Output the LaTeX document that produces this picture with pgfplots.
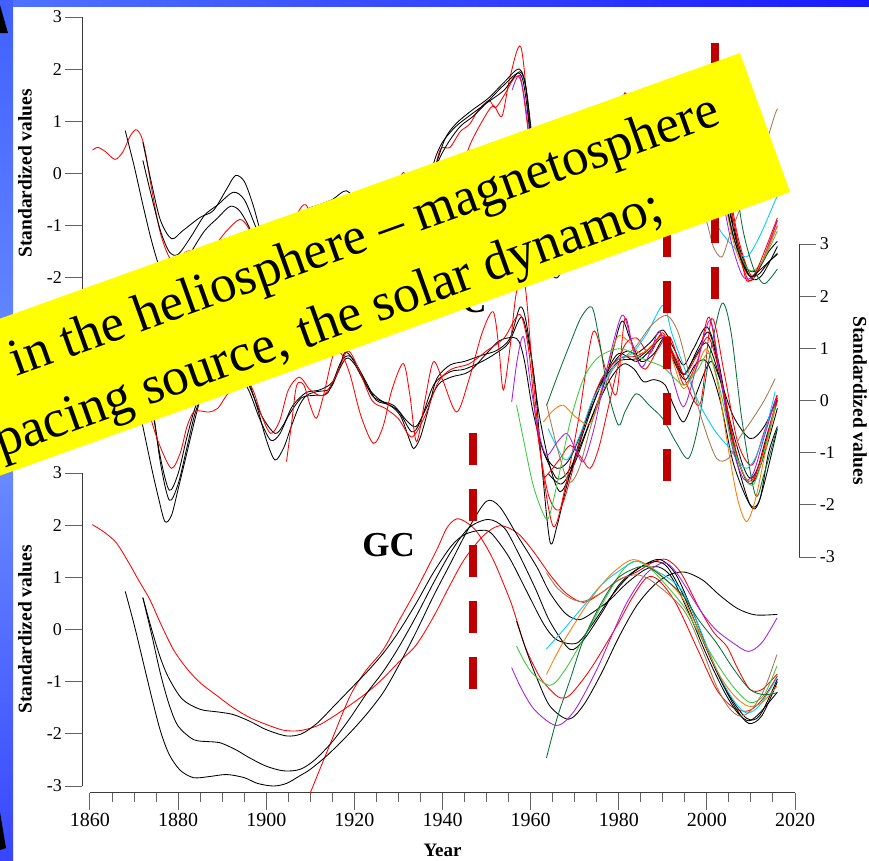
\documentclass[border=0pt]{standalone}
\usepackage{pgfplots}
\pgfplotsset{compat=1.18}
\usepackage{fontspec}
\setmainfont{Liberation Serif}

\definecolor{cRed}{RGB}{255,0,0}
\definecolor{cPurple}{RGB}{160,32,230}
\definecolor{cBrown}{RGB}{165,120,80}
\definecolor{cCyan}{RGB}{0,200,255}
\definecolor{cGreen}{RGB}{60,200,60}
\definecolor{cDkGreen}{RGB}{10,110,60}
\definecolor{cOrange}{RGB}{255,120,0}
\definecolor{dashRed}{RGB}{192,0,0}
\definecolor{bannerYellow}{RGB}{255,255,0}
\definecolor{frameA}{RGB}{80,115,255}
\definecolor{frameB}{RGB}{25,25,255}
\definecolor{stripTop}{RGB}{64,96,255}
\definecolor{stripMid}{RGB}{110,145,255}
\definecolor{stripBot}{RGB}{55,70,255}
\definecolor{axisGray}{RGB}{60,60,60}
\definecolor{tickGray}{RGB}{100,100,100}

\pgfplotsset{
  curve/.style={line width=0.85pt, smooth, tension=0.5},
  sK/.style={curve, black},
  sR/.style={curve, cRed},
  sP/.style={curve, cPurple},
  sB/.style={curve, cBrown},
  sC/.style={curve, cCyan},
  sG/.style={curve, cGreen},
  sD/.style={curve, cDkGreen},
  sO/.style={curve, cOrange},
  event/.style={dashRed, line width=8pt, dash pattern=on 32pt off 24pt},
  panel/.style={
    scale only axis, width=705pt, height=313pt,
    xmin=1860, xmax=2020, ymin=-3, ymax=3,
    clip=false,
    ytick={-3,-2,-1,0,1,2,3},
    yticklabels={-3,-2,-1,0,1,2,3},
    tick align=outside,
    major tick length=17pt,
    minor tick length=9pt,
    yticklabel style={font=\fontsize{18}{20}\selectfont},
    xticklabel style={font=\fontsize{20}{22}\selectfont},
    axis line style={axisGray, line width=1pt},
    tick style={tickGray, line width=1pt},
    ylabel={Standardized values},
    every axis y label/.style={font=\fontsize{19.5}{20}\selectfont\bfseries, anchor=center},
  },
}

\begin{document}
\begin{tikzpicture}
\useasboundingbox (0,0) rectangle (869pt,-860pt);
\clip (0,0) rectangle (869pt,-860pt);
\fill[white] (0,0) rectangle (869pt,-860pt);
\shade[left color=frameA, right color=frameB] (0,0) rectangle (869pt,-6pt);
\shade[top color=stripTop, bottom color=stripBot, middle color=stripMid] (0,0) rectangle (13pt,-860pt);
\fill[black] (0,-5pt) -- (8pt,-33pt) -- (0,-33pt) -- cycle;
\fill[black] (0,-812pt) -- (6pt,-848pt) -- (0,-850pt) -- cycle;

% ---------------- upper panel ----------------
\begin{axis}[panel, at={(90pt,-17pt)}, anchor=north west,
  axis x line=none, axis y line*=left, axis y line shift=7.7pt,
  ylabel style={at={(axis description cs:-0.0922,0.5)}, rotate=90}]
\addplot[sR] coordinates {(1860.6,0.45) (1861.8,0.5) (1863.5,0.42) (1865.7,0.27) (1867.5,0.42) (1869,0.7) (1870.4,0.84) (1871.6,0.72) (1872.6,0.4) (1874,-0.3) (1876,-1.15) (1878.2,-1.63) (1880.2,-1.58) (1882.5,-1.48) (1885,-1.5) (1888,-1.4) (1891,-1.1) (1894,-0.88) (1896,-1.05) (1898,-1.45) (1900,-1.9) (1903,-1.8) (1906,-1.1) (1909,-0.8) (1912,-0.85) (1915,-0.7) (1918,-0.55) (1921,-0.9) (1924.5,-1.3) (1928,-1.2) (1931,-1.3) (1934,-1.5) (1937,-0.4) (1939.4,0.44) (1941.7,0.5) (1944,0.8) (1946.2,0.95) (1948,1.2) (1950.5,1.4) (1952,1.26) (1954,1.5) (1956.5,1.85) (1958,1.7) (1960,0.4) (1962,-1.2) (1965,-1.7) (1968,-1.2) (1972,-0.3) (1976,0.4) (1980,0.9) (1984,0.7) (1987,0.9) (1990,1.2) (1993,0.5) (1995.5,0.0) (1998.5,0.5) (2001,1.1) (2004,0.0) (2007,-1.4) (2009.5,-2.05) (2012,-1.8) (2016,-0.9)};
\addplot[sR] coordinates {(1905,-1.6) (1907,-0.8) (1909,-0.6) (1911,-1.0) (1913,-0.7) (1915.5,-0.5) (1918,-0.6) (1921,-1.2) (1924,-1.5) (1927.5,-0.8) (1931.1,0.02) (1933,-0.6) (1935,-0.9) (1937.5,-0.1) (1940,0.2) (1943,-0.3) (1946,0.5) (1949,1.0) (1951.5,1.3) (1953.5,1.1) (1955.3,1.84) (1957.8,2.42) (1959.9,0.76) (1962,-1.0) (1964.5,-1.8) (1967,-1.4) (1970,-0.8) (1973,0.8) (1976,0.4) (1979,0.1) (1981.4,1.55) (1984,0.6) (1988,0.8) (1991.5,1.1) (1995,0.3) (1998.5,-0.1) (2001,1.3) (2004,0.2) (2007,-1.2) (2010,-1.95) (2012.5,-1.7) (2016,-1.0)};
\addplot[sK] coordinates {(1868,0.82) (1870,0.15) (1872,-0.6) (1874,-1.3) (1876,-1.85) (1878,-2.05) (1880,-1.95) (1883,-1.5) (1886,-1.1) (1889,-0.85) (1891.8,-0.63) (1894,-0.72) (1896.5,-1.1) (1899,-1.7) (1901.5,-2.1) (1904,-1.9) (1907,-1.2) (1910,-0.95) (1913,-0.9) (1916,-0.75) (1918.5,-0.7) (1921,-0.9) (1924,-1.2) (1927,-1.3) (1930,-1.4) (1933,-1.6) (1936,-0.9) (1938.5,0.1) (1941,0.55) (1944,0.9) (1947,1.1) (1950.5,1.4) (1954,1.7) (1957.5,1.92) (1959,1.4) (1961,-0.2) (1963,-1.6) (1966,-2.0) (1969,-1.4) (1973,-0.5) (1977,0.4) (1980,0.8) (1984,0.8) (1987,1.0) (1990,1.3) (1993,0.7) (1995,0.4) (1998,0.8) (2000.5,1.0) (2003,0.2) (2006,-1.0) (2009,-1.8) (2011.5,-1.85) (2014,-1.5) (2016,-1.3)};
\addplot[sK] coordinates {(1872,0.6) (1874,-0.2) (1876,-0.9) (1878.5,-1.25) (1881,-1.1) (1885,-0.84) (1888,-0.71) (1891,-0.3) (1893,-0.04) (1895,-0.15) (1897,-0.6) (1899,-1.2) (1901,-1.6) (1903.5,-1.5) (1906,-1.0) (1909,-0.7) (1912,-0.6) (1915,-0.5) (1918.2,-0.33) (1921,-0.6) (1924,-0.9) (1927,-1.0) (1930,-1.1) (1933,-1.3) (1935.5,-0.7) (1938,0.2) (1940,0.6) (1943,0.9) (1946,1.1) (1950,1.35) (1954,1.6) (1957.5,1.95) (1959,1.6) (1961,0.2) (1963,-1.2) (1965,-1.8) (1968,-1.5) (1972,-0.6) (1976,0.3) (1980,0.8) (1984,0.8) (1988,1.1) (1990.5,1.3) (1993,0.6) (1995,0.3) (1998,0.7) (2000.5,1.0) (2003,0.0) (2006,-1.2) (2009,-1.9) (2011.5,-1.95) (2014,-1.7) (2016,-1.55)};
\addplot[sK] coordinates {(1872,0.25) (1874,-0.45) (1876,-1.1) (1878,-1.5) (1880,-1.55) (1883,-1.2) (1886,-0.8) (1889,-0.6) (1892.5,-0.36) (1895,-0.5) (1897.5,-1.0) (1900,-1.5) (1902.5,-1.75) (1905,-1.4) (1908,-0.95) (1911,-0.8) (1914.5,-0.7) (1918,-0.55) (1921,-0.75) (1924,-1.05) (1927,-1.15) (1930,-1.2) (1933,-1.45) (1935.5,-0.9) (1938,0.0) (1940.5,0.65) (1943,0.95) (1946.5,1.2) (1950.5,1.45) (1954,1.75) (1957.5,2.0) (1959.2,1.5) (1961,-0.1) (1963,-1.3) (1966,-1.7) (1969,-1.3) (1973,-0.4) (1977,0.5) (1981,0.9) (1985,0.7) (1988,1.0) (1990.5,1.2) (1993,0.5) (1995.5,0.2) (1998,0.6) (2001,0.8) (2004,-0.3) (2007,-1.4) (2010,-2.0) (2012.5,-1.95) (2016,-1.4)};
\addplot[sP] coordinates {(1955.8,1.6) (1957.5,1.88) (1959,1.2) (1961,-0.3) (1963.5,-1.5) (1966,-1.4) (1969,-1.2) (1972,-1.3) (1975,-0.3) (1978,0.8) (1981,1.5) (1983.5,0.8) (1986,0.7) (1989,1.1) (1992,0.3) (1995,-0.2) (1998,0.4) (2000.5,0.9) (2003,-0.2) (2005.5,-1.3) (2008,-1.95) (2010,-2.0) (2012.5,-1.7) (2016,-0.9)};
\addplot[sC] coordinates {(1964,-0.8) (1968,-1.3) (1972,-0.4) (1976,0.3) (1980,0.8) (1984,0.9) (1987,1.2) (1990,1.4) (1993,1.0) (1996,0.2) (2000,-0.6) (2003,-1.09) (2006,-1.4) (2009,-1.6) (2012,-1.2) (2015.5,-0.52) (2016,-0.45)};
\addplot[sB] coordinates {(1963.6,-0.2) (1966,-1.0) (1968.6,-1.6) (1972,-1.1) (1976,0.0) (1980,0.6) (1984,0.9) (1987.5,1.2) (1991,1.3) (1994,1.0) (1997,0.0) (2000.3,-1.03) (2001.5,-1.41) (2003.4,-1.6) (2005.3,-1.16) (2008.3,-0.52) (2012.1,0.25) (2015.5,1.14) (2016,1.22)};
\addplot[sO] coordinates {(1963,-0.6) (1967,-0.3) (1972,-0.6) (1976,0.3) (1980,1.1) (1985,0.9) (1990,1.2) (1994.5,0.2) (2000,0.9) (2003,-0.1) (2006,-1.3) (2008.5,-1.85) (2010.5,-1.95) (2013,-1.6) (2016,-1.0)};
\addplot[sG] coordinates {(1956.8,0.1) (1960,-1.3) (1964,-2.0) (1968,-1.0) (1972,0.3) (1977,0.9) (1981,1.0) (1986,0.8) (1990,0.6) (1995,0.3) (2000,0.8) (2003,0.0) (2006,-1.2) (2009.5,-1.85) (2012.5,-1.7) (2016,-1.1)};
\addplot[sD] coordinates {(1963.6,-0.3) (1968,0.6) (1973.9,1.1) (1977,0.3) (1980,-0.5) (1984,0.0) (1990,-0.4) (1995.8,-0.9) (2000,0.3) (2003.4,1.3) (2005.5,0.5) (2008,-1.0) (2010.5,-1.8) (2012.8,-2.11) (2014.5,-2.0) (2016,-1.83)};
\addplot[sR] coordinates {(1963,-1.6) (1966,-1.3) (1969,-1.0) (1972,-1.3) (1975,-0.5) (1978,0.5) (1981,1.5) (1983.5,0.9) (1987,0.9) (1990,1.3) (1993,0.6) (1996,0.1) (1999,0.6) (2001,1.2) (2004,0.0) (2007,-1.3) (2009,-2.05) (2011,-1.9) (2013.5,-1.4) (2016,-0.85)};
\addplot[sK] coordinates {(1964,-1.2) (1968,-1.4) (1972,-0.6) (1976,0.3) (1980,0.8) (1985,0.8) (1990,1.2) (1994,0.4) (2000,1.0) (2003,0.0) (2006,-1.2) (2009.5,-1.95) (2012,-1.85) (2016,-1.53)};
\end{axis}

% ---------------- middle panel ----------------
\begin{axis}[panel, at={(90pt,-244pt)}, anchor=north west,
  axis x line=none, axis y line*=right, axis y line shift=4.3pt,
  ylabel style={at={(axis description cs:1.0922,0.5)}, rotate=-90}]
\addplot[sK] coordinates {(1868,0.8) (1870,0.3) (1872,-0.5) (1874,-1.3) (1875.5,-1.85) (1877,-2.32) (1878.5,-2.2) (1880,-1.7) (1882,-1.0) (1884,-0.3) (1886,0.3) (1889,0.8) (1892,1.0) (1895,0.6) (1897.8,-0.09) (1900,-0.75) (1902,-1.14) (1904,-0.9) (1905.5,-0.54) (1907.5,-0.1) (1909.2,0.1) (1911.5,0.17) (1914.5,0.23) (1916.5,0.6) (1918,0.93) (1920.5,0.68) (1923,0.3) (1925,0.0) (1928,-0.09) (1930.5,-0.3) (1932.5,-0.75) (1933.5,-0.92) (1935,-0.7) (1937,-0.1) (1938.7,0.42) (1941.7,0.68) (1945,0.75) (1949,0.87) (1952.3,0.96) (1955.3,1.19) (1957.6,1.79) (1959,1.5) (1961,0.3) (1962.5,-1.2) (1964.4,-2.71) (1966,-2.4) (1968,-1.7) (1971,-0.8) (1975,0.2) (1979.5,0.8) (1982,0.95) (1984,0.9) (1987,1.1) (1990,1.35) (1992.5,1.0) (1994.7,0.68) (1997,1.0) (2000,1.41) (2002.5,0.8) (2005,-0.3) (2008,-1.2) (2009.8,-1.49) (2011.5,-1.3) (2013.5,-0.7) (2016,0.0)};
\addplot[sK] coordinates {(1872,0.9) (1874,0.0) (1876,-1.2) (1878,-1.91) (1880,-1.6) (1882,-0.9) (1884,-0.2) (1887,0.4) (1890,0.7) (1893,0.6) (1896,0.2) (1898.5,-0.35) (1901,-0.76) (1903,-0.65) (1905,-0.3) (1908,0.05) (1911,0.1) (1914,0.15) (1917,0.75) (1919,0.85) (1921,0.6) (1924,0.1) (1927,-0.05) (1930,-0.2) (1933,-0.6) (1935,-0.4) (1938,0.3) (1941.7,0.55) (1945,0.6) (1949,0.75) (1952,0.9) (1955,1.1) (1958,1.6) (1960,0.9) (1962,-0.3) (1964.5,-1.3) (1966.7,-1.75) (1969,-1.4) (1972,-0.6) (1976,0.3) (1980,0.75) (1984,0.8) (1987,1.0) (1990,1.25) (1992.5,0.85) (1994.7,0.5) (1997,0.8) (2000,1.1) (2003,0.4) (2006,-0.8) (2009,-1.55) (2011,-1.5) (2013.5,-0.9) (2016,-0.15)};
\addplot[sK] coordinates {(1872,0.7) (1874,-0.1) (1876,-1.1) (1878,-1.72) (1880,-1.4) (1882,-0.7) (1884,-0.1) (1887,0.5) (1890,0.8) (1893,0.7) (1896,0.3) (1899,-0.3) (1902,-0.63) (1904,-0.45) (1906,-0.1) (1909,0.15) (1912,0.2) (1915,0.35) (1918,0.8) (1920,0.7) (1923,0.25) (1926,0.0) (1929,-0.1) (1932,-0.4) (1934,-0.5) (1936,-0.2) (1939,0.3) (1942,0.45) (1946,0.55) (1950,0.9) (1953,1.15) (1956.8,1.19) (1958.5,0.8) (1960.5,-0.2) (1963,-1.0) (1966,-1.3) (1969,-1.1) (1973,-0.3) (1977,0.5) (1980,0.9) (1984,0.75) (1987,0.95) (1990,1.2) (1992.5,0.75) (1995,0.4) (1997.5,0.7) (2000,0.74) (2003,0.0) (2006,-1.2) (2009.8,-2.0) (2012,-1.9) (2014,-1.0) (2016,-0.5)};
\addplot[sK] coordinates {(1964,-1.4) (1967,-1.6) (1970,-1.2) (1974,-0.3) (1978,0.4) (1981,0.7) (1983.5,0.6) (1985.6,0.36) (1988,0.4) (1990.5,0.3) (1992.5,-0.1) (1994.7,-0.41) (1997,0.0) (2000.7,0.74) (2003,0.4) (2006,-0.3) (2009.8,-0.73) (2013,-0.5) (2016,0.04)};
\addplot[sK] coordinates {(1963,-1.0) (1966,-1.5) (1969,-1.3) (1973,-0.5) (1977,0.4) (1980.5,1.5) (1982.5,1.2) (1985,0.75) (1988,0.9) (1990.5,1.2) (1993,0.7) (1995,0.5) (1998,1.0) (2000.5,1.3) (2003,0.5) (2006,-0.9) (2009.8,-2.0) (2012,-1.9) (2016,-0.54)};
\addplot[sR] coordinates {(1868,0.5) (1870,0.6) (1872,0.3) (1874,-0.4) (1876,-0.9) (1878.5,-1.30) (1880.5,-1.0) (1882,-0.5) (1883.5,-0.22) (1885,-0.2) (1887,-0.22) (1889,-0.15) (1891,0.1) (1893,0.29) (1895,0.45) (1897,0.2) (1899,-0.3) (1901,-0.63) (1903,-0.4) (1905,0.2) (1907.5,0.45) (1910,0.2) (1913,0.1) (1916,0.5) (1918.5,0.95) (1921,0.6) (1924,0.0) (1927,-0.15) (1930,-0.35) (1933,-0.7) (1936,-0.3) (1939,0.35) (1942,0.6) (1946,0.7) (1950,0.95) (1954,1.2) (1957.5,1.65) (1959.5,1.0) (1961.5,-0.6) (1964,-1.8) (1966.5,-2.1) (1969,-1.5) (1972,-0.5) (1976,0.4) (1980,0.8) (1984,0.85) (1987,1.0) (1990,1.25) (1993,0.8) (1995,0.5) (1998,0.9) (2000.5,1.2) (2003.5,0.3) (2007,-1.1) (2010,-1.6) (2013,-0.9) (2016,0.1)};
\addplot[sR] coordinates {(1904.6,-1.17) (1905.8,-0.4) (1906.9,0.29) (1908.5,0.3) (1910,-0.1) (1911.4,-0.34) (1913,0.1) (1915.2,0.87) (1917,0.9) (1919,0.5) (1921.5,-0.3) (1924.3,-0.82) (1926.5,-0.5) (1928.5,0.2) (1931.1,0.71) (1932.6,0.1) (1934.1,-0.79) (1936,0.0) (1937.9,0.74) (1940,0.4) (1943.2,-0.22) (1946,0.4) (1949,1.3) (1951.5,1.7) (1952.8,1.0) (1953.8,0.2) (1955.3,1.0) (1956.8,2.08) (1958.7,2.21) (1960.5,0.5) (1962.5,-1.2) (1965.2,-2.42) (1968,-1.6) (1971,-0.3) (1974.2,1.32) (1977,0.6) (1979.5,0.13) (1981.4,1.57) (1983.5,0.9) (1986,0.6) (1989,1.0) (1991.6,1.22) (1995,0.4) (1998.5,-0.06) (2001.1,1.57) (2004,0.5) (2007,-0.8) (2010.2,-1.24) (2013,-0.6) (2015.9,0.1)};
\addplot[sR] coordinates {(1963,-1.5) (1965,-1.3) (1966.7,-1.11) (1969,-0.86) (1971.5,-1.1) (1973.5,-1.3) (1975.5,-0.9) (1978,0.0) (1981,1.0) (1984,1.2) (1987,0.9) (1990,1.3) (1993,0.7) (1995,0.3) (1998,0.8) (2000.5,1.6) (2003,0.5) (2006.5,-1.0) (2009.5,-1.55) (2012,-1.2) (2016,0.0)};
\addplot[sD] coordinates {(1963.6,-0.1) (1966,0.45) (1969,1.1) (1971.5,1.6) (1973.9,1.79) (1975.5,1.2) (1977.5,0.2) (1979.9,-0.47) (1981.5,-0.2) (1984,0.13) (1987,-0.1) (1990,-0.35) (1993,-0.8) (1995.8,-1.11) (1998,-0.5) (2000.5,0.8) (2003.4,1.86) (2005.5,1.3) (2008,-0.4) (2011,-1.81) (2013,-1.4) (2015.9,-0.54)};
\addplot[sO] coordinates {(1962.9,-0.41) (1965,-0.2) (1967.4,-0.09) (1970,-0.3) (1973.5,-0.44) (1976,0.2) (1979.5,1.19) (1982,1.15) (1985,0.9) (1988,1.1) (1990.5,1.25) (1992.5,0.7) (1994.7,0.23) (1997.5,0.6) (2000,0.99) (2002.5,0.3) (2005,-1.0) (2007,-1.9) (2009,-2.32) (2011,-1.9) (2013.5,-0.9) (2015.5,-0.15)};
\addplot[sC] coordinates {(1964,-0.54) (1966,-0.9) (1968.2,-1.14) (1971,-0.7) (1974,0.0) (1977,0.4) (1980,0.8) (1983,0.9) (1986.5,1.3) (1990.1,1.83) (1992,1.3) (1995,0.6) (1998.5,-0.1) (2002,-0.6) (2005,-0.9) (2007,-1.15) (2009,-1.3) (2011,-1.1) (2013.5,-0.5) (2015.5,0.17)};
\addplot[sB] coordinates {(1963.6,-0.06) (1966,-0.9) (1968.6,-1.56) (1971,-1.3) (1974,-0.4) (1978,0.5) (1981,0.8) (1984,1.05) (1987.5,1.45) (1990.9,1.63) (1993.5,1.3) (1996,0.5) (1999,-0.4) (2002.2,-1.11) (2005,-1.1) (2007.5,-0.7) (2010,-0.4) (2013,0.0) (2015.5,0.42)};
\addplot[sP] coordinates {(1955.7,-0.03) (1957,0.8) (1958.4,1.22) (1960,0.3) (1961.8,-0.6) (1963.6,-1.05) (1966,-0.8) (1968.2,-0.63) (1970,-0.9) (1972,-1.17) (1974.5,-0.5) (1977,0.5) (1980.7,1.63) (1983,1.1) (1985.2,0.64) (1987.5,1.0) (1989.4,1.32) (1992,0.5) (1994.7,-0.12) (1997.5,0.6) (2000.7,1.54) (2003,0.5) (2005.5,-0.8) (2008.3,-1.5) (2010.5,-1.4) (2013,-0.7) (2015.5,0.0)};
\addplot[sG] coordinates {(1956.8,-0.09) (1958.5,-0.8) (1960.5,-1.6) (1962.5,-2.1) (1964,-2.26) (1966,-1.6) (1969,-0.4) (1972,0.42) (1975,0.8) (1978,0.95) (1981,0.99) (1984,0.85) (1987,0.75) (1990.1,0.64) (1993,0.4) (1995,0.3) (1998,0.6) (2000.5,0.9) (2003,0.2) (2006,-0.9) (2009.8,-1.62) (2012,-1.3) (2015.5,-0.1)};
\node[font=\fontsize{35}{36}\selectfont\bfseries, anchor=base east] at (axis cs:1950.8,1.68) {C};
\end{axis}

% ---------------- lower panel ----------------
\begin{axis}[panel, at={(90pt,-473pt)}, anchor=north west,
  axis x line*=bottom, axis y line*=left,
  axis x line shift=6.5pt, axis y line shift=7.7pt,
  xtick={1860,1880,...,2020},
  xticklabels={1860,1880,1900,1920,1940,1960,1980,2000,2020},
  minor xtick={1865,1870,...,2015},
  xlabel={Year},
  xlabel style={font=\fontsize{19}{20}\selectfont\bfseries, at={(axis description cs:0.5,-0.207)}, anchor=center},
  ylabel style={at={(axis description cs:-0.0922,0.5)}, rotate=90}]
\addplot[sR] coordinates {(1860.5,2.01) (1863,1.88) (1866,1.66) (1869,1.25) (1871,0.95) (1873.6,0.57) (1876,0.12) (1878.9,-0.38) (1882,-0.75) (1885,-1.02) (1889,-1.28) (1892.5,-1.5) (1896.3,-1.69) (1900,-1.82) (1903.9,-1.93) (1907.5,-1.94) (1911.5,-1.85) (1915,-1.68) (1919,-1.45) (1923,-1.2) (1926.6,-0.93) (1930,-0.63) (1934,-0.3) (1938,0.25) (1941.7,0.85) (1945,1.35) (1949.3,1.8) (1953,1.99) (1957,1.85) (1960.6,1.5) (1964.4,1.05) (1968,0.7) (1972,0.52) (1976,0.7) (1980,0.95) (1984,1.1) (1988,1.3) (1990.9,1.34) (1994,1.1) (1998,0.45) (2001.5,-0.05) (2004.5,-0.32) (2007,-0.75) (2009.8,-1.15) (2012.5,-1.15) (2016,-0.85)};
\addplot[sR] coordinates {(1910,-3.13) (1914,-2.3) (1919,-1.28) (1922.5,-0.8) (1926.6,-0.38) (1930,0.15) (1934.1,0.77) (1938.7,1.53) (1941,1.95) (1943.2,2.12) (1945.5,2.05) (1948,1.85) (1951.5,1.34) (1955.3,0.57) (1956.8,0.19) (1959,-0.38) (1962,-0.9) (1964.4,-1.15) (1966.7,-1.31) (1969,-1.25) (1973.5,-0.77) (1979.5,0.06) (1983,0.6) (1986.3,0.99) (1989,0.95) (1993,0.5) (1998,-0.4) (2002.2,-1.15) (2006,-1.5) (2009.4,-1.56) (2012.5,-1.35) (2016,-0.89)};
\addplot[sK] coordinates {(1868,0.73) (1870,0.1) (1872,-0.6) (1874,-1.3) (1876,-1.95) (1878,-2.4) (1880.5,-2.7) (1883.5,-2.84) (1887,-2.82) (1891,-2.78) (1895,-2.84) (1898,-2.95) (1901.6,-3.0) (1904.6,-2.95) (1907.7,-2.8) (1910,-2.68) (1914,-2.4) (1919,-1.98) (1923,-1.6) (1926.6,-1.2) (1930,-0.7) (1934,-0.05) (1938,0.65) (1941.7,1.25) (1946,1.95) (1950,2.46) (1953,2.35) (1957,1.8) (1961.4,1.2) (1964.4,0.7) (1968,0.3) (1971.2,0.19) (1975,0.38) (1978,0.57) (1982,0.9) (1986,1.15) (1989,1.2) (1992,1.0) (1996,0.3) (2000,-0.5) (2004,-1.2) (2007,-1.6) (2009.5,-1.75) (2012,-1.6) (2016,-1.2)};
\addplot[sK] coordinates {(1872,0.61) (1874,-0.1) (1876,-0.85) (1878,-1.45) (1880,-1.85) (1883.5,-2.11) (1887,-2.15) (1889.5,-2.17) (1893,-2.3) (1896,-2.45) (1900,-2.62) (1904,-2.71) (1907.7,-2.68) (1911,-2.5) (1915,-2.15) (1919,-1.7) (1923,-1.2) (1926.6,-0.8) (1930,-0.35) (1934,0.25) (1938,0.9) (1942,1.5) (1946,1.95) (1950.4,2.11) (1954,1.95) (1957,1.5) (1961,0.8) (1964.4,0.15) (1968.9,-0.38) (1972,-0.2) (1976,0.3) (1980,0.85) (1984,1.15) (1988,1.3) (1991,1.2) (1995,0.6) (1999,-0.2) (2003,-0.95) (2006.5,-1.5) (2009.5,-1.8) (2012.5,-1.65) (2016,-1.0)};
\addplot[sK] coordinates {(1872,0.61) (1874,0.0) (1876,-0.55) (1878,-0.95) (1881,-1.34) (1885,-1.53) (1889,-1.58) (1892.5,-1.63) (1896.3,-1.76) (1900,-1.92) (1904.6,-2.04) (1908,-2.0) (1911.5,-1.8) (1915,-1.5) (1919,-1.15) (1923,-0.8) (1926.6,-0.45) (1930,-0.05) (1934,0.5) (1938,1.1) (1942,1.6) (1945,1.82) (1948.5,1.9) (1951,1.85) (1955,1.4) (1959,0.75) (1963,0.1) (1966,-0.2) (1970.5,-0.26) (1974,0.1) (1978,0.6) (1982,1.0) (1986,1.25) (1989.5,1.34) (1993,1.05) (1997,0.3) (2001,-0.55) (2005,-1.25) (2009,-1.7) (2012,-1.65) (2016,-0.95)};
\addplot[sK] coordinates {(1956.8,0.16) (1959,-0.4) (1961.5,-0.95) (1964.4,-1.47) (1968.6,-1.72) (1972,-1.45) (1976,-0.85) (1980,-0.15) (1984,0.45) (1988,0.85) (1991.5,1.05) (1995,1.10) (1999,0.95) (2003,0.65) (2007,0.4) (2011,0.28) (2016,0.29)};
\addplot[sP] coordinates {(1955.7,-0.73) (1958,-1.15) (1961,-1.55) (1965.9,-1.84) (1970,-1.55) (1975,-0.77) (1978.5,-0.1) (1981.8,0.51) (1986,1.05) (1990.1,1.28) (1993,1.1) (1998.4,0.38) (2002,0.0) (2006,-0.26) (2009.4,-0.42) (2012.5,-0.25) (2015.9,0.22)};
\addplot[sG] coordinates {(1956.8,-0.32) (1960,-0.8) (1964.4,-1.07) (1968,-0.75) (1973.5,0.06) (1977,0.6) (1981,1.15) (1984.1,1.31) (1988,1.1) (1994.7,0.45) (1998,-0.05) (2002.2,-0.64) (2006,-1.1) (2009.8,-1.4) (2013,-1.25) (2015.9,-0.7)};
\addplot[sC] coordinates {(1963.6,-0.37) (1967,-0.05) (1972,0.45) (1976,0.85) (1979.5,1.09) (1984,1.31) (1988,1.15) (1994.7,0.7) (2002.2,-0.77) (2006,-1.35) (2009,-1.6) (2012,-1.45) (2015.9,-0.93)};
\addplot[sO] coordinates {(1963.6,-0.86) (1967,-0.3) (1972,0.38) (1976,0.85) (1979.5,1.15) (1983.3,1.34) (1988,1.15) (1994.7,0.57) (2002.2,-0.77) (2006,-1.25) (2009.4,-1.47) (2012.5,-1.4) (2015.9,-1.09)};
\addplot[sB] coordinates {(1963.6,1.09) (1966,0.8) (1969,0.6) (1972,0.54) (1976,0.7) (1980,0.95) (1984.1,1.05) (1988,0.9) (1994.7,0.38) (1999,-0.4) (2002.2,-1.09) (2005,-1.5) (2007.5,-1.66) (2010,-1.55) (2013,-1.15) (2015.9,-0.48)};
\addplot[sD] coordinates {(1963.6,-2.46) (1966,-1.7) (1969,-0.95) (1972,-0.19) (1976,0.5) (1979.5,0.96) (1983,1.15) (1986.3,1.21) (1990,1.0) (1994.7,0.64) (1998,0.2) (2002.2,-0.26) (2006,-0.75) (2009.8,-1.15) (2013,-1.25) (2015.9,-1.21)};
\node[font=\fontsize{35}{36}\selectfont\bfseries, anchor=base] at (axis cs:1927.75,1.39) {GC};
% dashed event markers, drawn upwards from their lower ends
\addplot[event] coordinates {(1946.9,-1.131) (1946.9,3.776)};
\addplot[event] coordinates {(1990.96,2.856) (1990.96,7.763)};
\addplot[event] coordinates {(2001.85,6.344) (2001.85,11.251)};
\end{axis}

% ---------------- caption strip ----------------
\fill[bannerYellow] (740pt,-53pt) -- (790pt,-192pt) -- (-151.2pt,-529.9pt) -- (-201.2pt,-390.9pt) -- cycle;
\node[anchor=base west, rotate=19.75, inner sep=0pt, font=\fontsize{53}{60}\selectfont] at (16pt,-377pt) {in the heliosphere – magnetosphere};
\node[anchor=base west, rotate=19.75, inner sep=0pt, font=\fontsize{53.5}{60}\selectfont] at (1pt,-458pt) {pacing source, the solar dynamo;};
\end{tikzpicture}
\end{document}
